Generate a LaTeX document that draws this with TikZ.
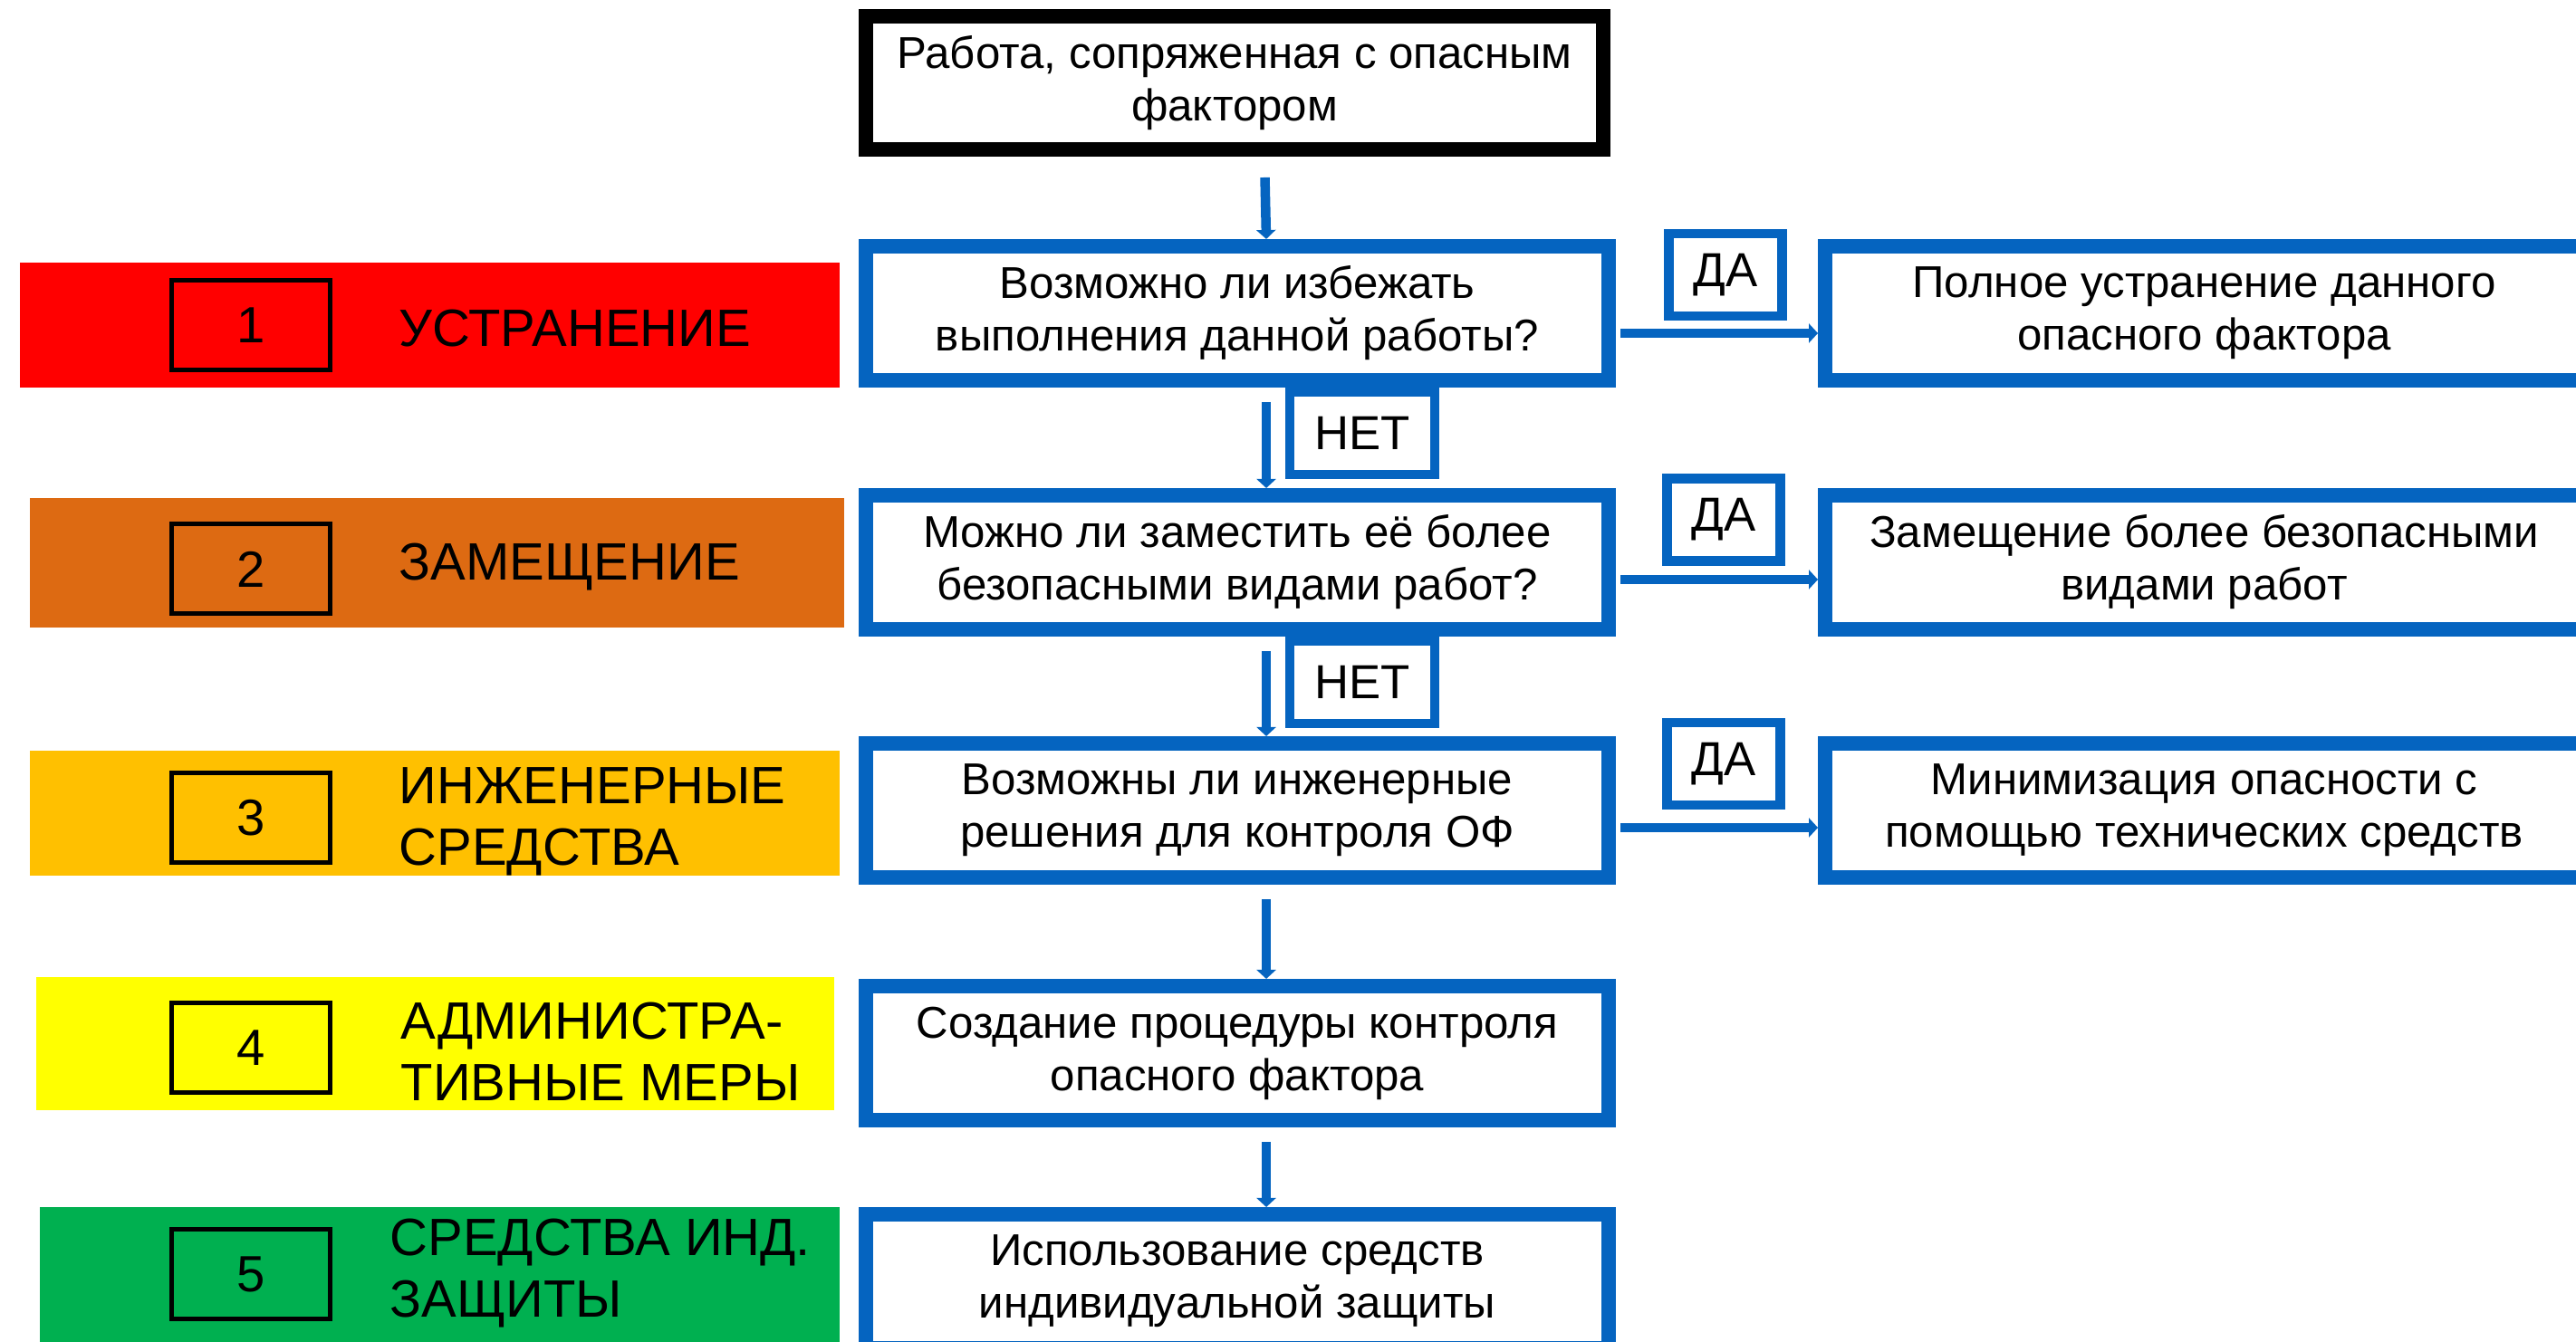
\documentclass[tikz,border=0pt]{standalone}
\usepackage{fontspec}
\setmainfont{Liberation Sans}
\usetikzlibrary{calc,arrows.meta}

\definecolor{boxblue}{RGB}{5,100,192}
\definecolor{bandred}{RGB}{255,0,0}
\definecolor{bandorange}{RGB}{221,106,18}
\definecolor{bandamber}{RGB}{255,192,0}
\definecolor{bandyellow}{RGB}{255,255,0}
\definecolor{bandgreen}{RGB}{0,176,80}

\begin{document}
\begin{tikzpicture}[
		qbox/.style={draw=boxblue, line width=1.6mm, minimum width=82mm, minimum height=14.8mm, inner sep=0pt, align=center, font=\fontsize{14}{16.5}\selectfont},
		rbox/.style={qbox, minimum width=83.7mm},
		tagbox/.style={draw=boxblue, line width=1.05mm, minimum height=9.1mm, inner sep=0pt, font=\fontsize{15}{17}\selectfont},
		band/.style={minimum width=89mm, inner sep=0pt},
		numbox/.style={draw=black, line width=0.5mm, minimum width=17.5mm, minimum height=9.9mm, inner sep=0pt, font=\fontsize{16}{18}\selectfont},
		bandtext/.style={anchor=west, inner sep=0pt, align=left, font=\fontsize{16.5}{19.3}\selectfont},
		flow/.style={draw=boxblue, line width=1.05mm, -{Triangle[width=2.1mm,length=1mm]}}
	]
		
		\useasboundingbox (0,0) rectangle (28.44,14.82);
		\clip (0,0) rectangle (28.44,14.82);
		
		% levels
		\node[band, fill=bandred, minimum width=90.5mm, minimum height=13.8mm] (b1) at (4.745,11.23) {};
		\node[band, fill=bandorange, minimum width=89.9mm, minimum height=14.3mm] (b2) at (4.825,8.605) {};
		\node[band, fill=bandamber, minimum width=89.4mm, minimum height=13.8mm] (b3) at (4.80,5.84) {};
		\node[band, fill=bandyellow, minimum width=88.1mm, minimum height=14.7mm] (b4) at (4.805,3.295) {};
		\node[band, fill=bandgreen, minimum width=88.3mm, minimum height=14.9mm] (b5) at (4.855,0.745) {};
		
		\node[numbox] (n1) at (2.77,11.23) {1};
		\node[numbox] (n2) at (2.77,8.535) {2};
		\node[numbox] (n3) at (2.77,5.785) {3};
		\node[numbox] (n4) at (2.77,3.245) {4};
		\node[numbox] (n5) at (2.77,0.75) {5};
		
		\node[bandtext] (t1) at (4.40,11.19) {УСТРАНЕНИЕ};
		\node[bandtext] (t2) at (4.40,8.56) {ЗАМЕЩЕНИЕ};
		\node[bandtext] (t3) at (4.40,5.75) {ИНЖЕНЕРНЫЕ\\СРЕДСТВА};
		\node[bandtext] (t4) at (4.42,3.21) {АДМИНИСТРА-\\ТИВНЫЕ МЕРЫ};
		\node[bandtext] (t5) at (4.30,0.76) {СРЕДСТВА ИНД.\\ЗАЩИТЫ};
		
		% decisions
		\node[qbox, draw=black, minimum width=81.4mm, minimum height=14.7mm] (work) at (13.63,13.905) {Работа, сопряженная с опасным\\фактором};
		\node[qbox] (q1) at (13.66,11.36) {Возможно ли избежать\\выполнения данной работы?};
		\node[qbox] (q2) at (13.66,8.61) {Можно ли заместить её более\\безопасными видами работ?};
		\node[qbox] (q3) at (13.66,5.87) {Возможны ли инженерные\\решения для контроля ОФ};
		\node[qbox] (q4) at (13.66,3.19) {Создание процедуры контроля\\опасного фактора};
		\node[qbox] (q5) at (13.66,0.67) {Использование средств\\индивидуальной защиты};
		
		\node[rbox] (r1) at (24.335,11.36) {Полное устранение данного\\опасного фактора};
		\node[rbox] (r2) at (24.335,8.61) {Замещение более безопасными\\видами работ};
		\node[rbox] (r3) at (24.335,5.87) {Минимизация опасности с\\помощью технических средств};
		
		\node[tagbox, minimum width=12.5mm] (da1) at (19.05,11.785) {ДА};
		\node[tagbox, minimum width=12.5mm] (da2) at (19.03,9.08) {ДА};
		\node[tagbox, minimum width=12.5mm] (da3) at (19.03,6.385) {ДА};
		\node[tagbox, minimum width=16mm] (net1) at (15.04,10.035) {НЕТ};
		\node[tagbox, minimum width=16mm] (net2) at (15.04,7.285) {НЕТ};
		
		\draw[flow, shorten <=2.3mm] ([xshift=3.3mm]work.south) -- ([xshift=3.2mm]q1.north);
		\draw[flow, shorten <=1.6mm] ([xshift=3.2mm]q1.south) -- ([xshift=3.2mm]q2.north);
		\draw[flow, shorten <=1.6mm] ([xshift=3.2mm]q2.south) -- ([xshift=3.2mm]q3.north);
		\draw[flow, shorten <=1.6mm] ([xshift=3.2mm]q3.south) -- ([xshift=3.2mm]q4.north);
		\draw[flow, shorten <=1.6mm] ([xshift=3.2mm]q4.south) -- ([xshift=3.2mm]q5.north);
		
		\draw[flow, shorten <=0.5mm] ([yshift=-2.2mm]q1.east) -- ([yshift=-2.2mm]q1.east -| r1.west);
		\draw[flow, shorten <=0.5mm] ([yshift=-1.9mm]q2.east) -- ([yshift=-1.9mm]q2.east -| r2.west);
		\draw[flow, shorten <=0.5mm] ([yshift=-1.9mm]q3.east) -- ([yshift=-1.9mm]q3.east -| r3.west);
		
		\end{tikzpicture}
\end{document}
